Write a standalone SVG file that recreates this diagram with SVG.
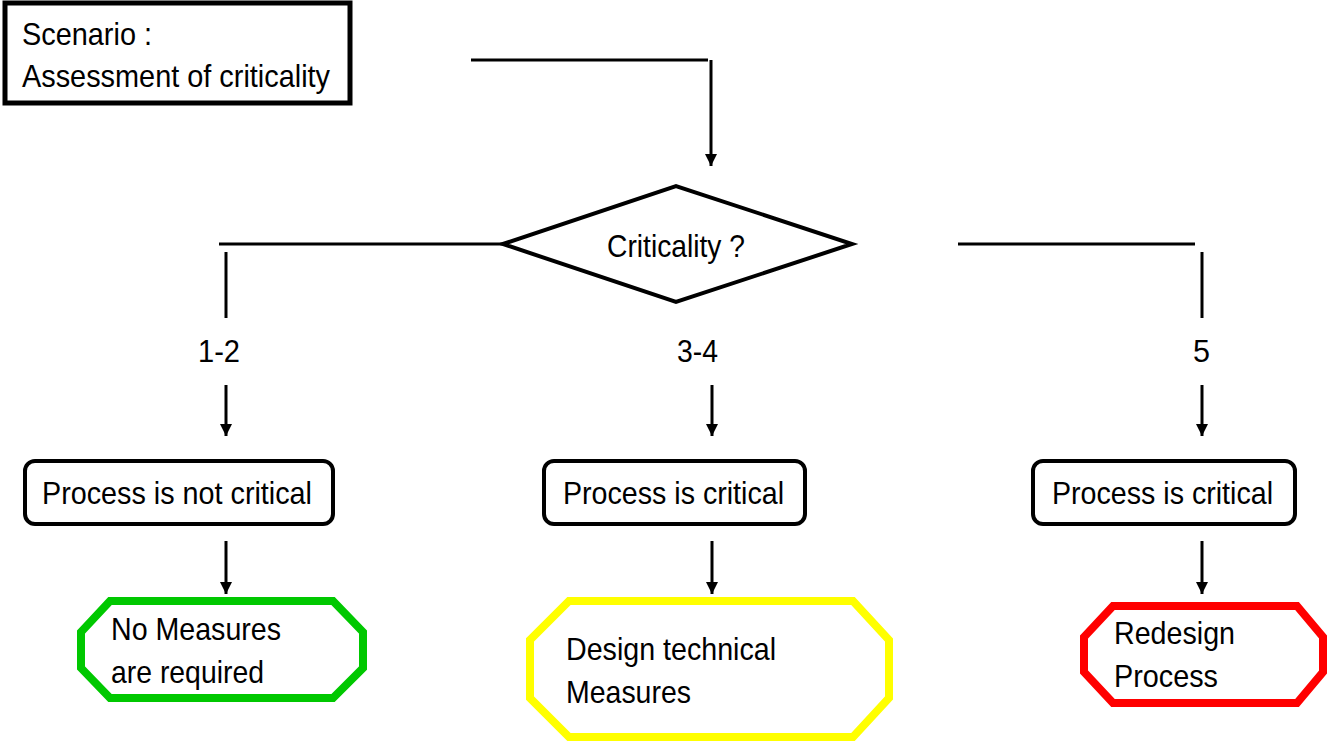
<svg xmlns="http://www.w3.org/2000/svg" width="1332" height="744" viewBox="0 0 1332 744">
<defs>
<marker id="ah" markerWidth="12" markerHeight="12" refX="12" refY="6" orient="auto" markerUnits="userSpaceOnUse" viewBox="0 0 12 12">
<path d="M0,0 L12,6 L0,12 Z" fill="#000"/>
</marker>
</defs>
<style>
text{font-family:"Liberation Sans",Arial,sans-serif;font-size:32px;fill:#000}
.ln{stroke:#000;stroke-width:3;fill:none}
.arr{stroke:#000;stroke-width:3;fill:none;marker-end:url(#ah)}
.box{fill:#fff;stroke:#000;stroke-width:4}
.oct{fill:#fff;stroke-width:8;stroke-linejoin:miter}
</style>
<rect width="1332" height="744" fill="#fff"/>
<g id="connectors">
<polyline class="ln" points="471,60 708,60"/>
<line class="arr" x1="711" y1="60" x2="711" y2="166"/>
<line class="ln" x1="219" y1="244" x2="503" y2="244"/>
<line class="ln" x1="226" y1="252" x2="226" y2="318"/>
<line class="arr" x1="226" y1="385" x2="226" y2="436"/>
<line class="arr" x1="712" y1="385" x2="712" y2="436"/>
<line class="ln" x1="958" y1="244" x2="1195" y2="244"/>
<line class="ln" x1="1202" y1="252" x2="1202" y2="318"/>
<line class="arr" x1="1202" y1="385" x2="1202" y2="436"/>
<line class="arr" x1="226" y1="541" x2="226" y2="594"/>
<line class="arr" x1="712" y1="541" x2="712" y2="594"/>
<line class="arr" x1="1202" y1="541" x2="1202" y2="594"/>
<text x="198" y="362" textLength="42" lengthAdjust="spacingAndGlyphs">1-2</text>
<text x="677" y="362" textLength="41" lengthAdjust="spacingAndGlyphs">3-4</text>
<text x="1193" y="362" textLength="17" lengthAdjust="spacingAndGlyphs">5</text>
</g>
<g id="scenario">
<rect class="box" x="5" y="3" width="345" height="100" style="stroke-width:5"/>
<text x="22" y="45" textLength="130" lengthAdjust="spacingAndGlyphs">Scenario :</text>
<text x="22" y="87" textLength="308" lengthAdjust="spacingAndGlyphs">Assessment of criticality</text>
</g>
<g id="decision">
<polygon class="box" points="503,244 676,186 852,244 676,302"/>
<text x="607" y="257" textLength="138" lengthAdjust="spacingAndGlyphs">Criticality ?</text>
</g>
<g id="not-critical">
<rect class="box" x="25" y="461" width="308" height="63" rx="10"/>
<text x="42" y="504" textLength="270" lengthAdjust="spacingAndGlyphs">Process is not critical</text>
</g>
<g id="critical-mid">
<rect class="box" x="544" y="461" width="261" height="63" rx="10"/>
<text x="563" y="504" textLength="221" lengthAdjust="spacingAndGlyphs">Process is critical</text>
</g>
<g id="critical-right">
<rect class="box" x="1033" y="461" width="262" height="63" rx="10"/>
<text x="1052" y="504" textLength="221" lengthAdjust="spacingAndGlyphs">Process is critical</text>
</g>
<g id="no-measures">
<polygon class="oct" stroke="#00C800" points="110,601 333,601 363,632 363,668 333,698 110,698 81,668 81,632"/>
<text x="111" y="640" textLength="170" lengthAdjust="spacingAndGlyphs">No Measures</text>
<text x="111" y="683" textLength="153" lengthAdjust="spacingAndGlyphs">are required</text>
</g>
<g id="design-measures">
<polygon class="oct" stroke="#FFFF00" points="569,601 853,601 889,640 889,698 853,737 569,737 530,698 530,640"/>
<text x="566" y="660" textLength="210" lengthAdjust="spacingAndGlyphs">Design technical</text>
<text x="566" y="703" textLength="125" lengthAdjust="spacingAndGlyphs">Measures</text>
</g>
<g id="redesign">
<polygon class="oct" stroke="#FF0000" points="1113,606 1297,606 1323,637 1323,672 1297,703 1113,703 1084,672 1084,637"/>
<text x="1114" y="644" textLength="121" lengthAdjust="spacingAndGlyphs">Redesign</text>
<text x="1114" y="687" textLength="104" lengthAdjust="spacingAndGlyphs">Process</text>
</g>
</svg>
